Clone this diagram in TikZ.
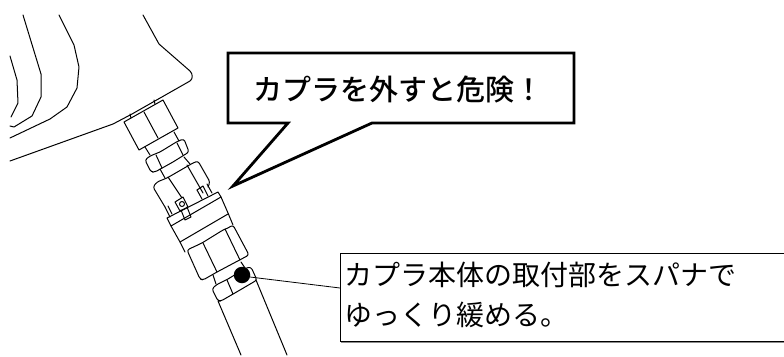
\documentclass[tikz,border=0pt]{standalone}
\usepackage{fontspec}
\newfontfamily\jpfont{Noto Sans CJK JP}
\newfontfamily\jpbold{Noto Sans CJK JP Medium}
\tikzset{
  part/.style={draw=black,line width=1pt,line join=round,line cap=round},
  nut/.style={part,rounded corners=2.5pt},
  callout/.style={draw=black,line width=2.8pt,line join=miter,fill=white},
  labelbox/.style={draw=black,line width=1pt},
  boxshade/.style={draw=black!45,line width=1pt},
  leader/.style={draw=black,line width=0.8pt},
  bigtext/.style={inner sep=0pt,anchor=base west,font=\jpfont\fontsize{29}{34}\selectfont},
  smalltext/.style={inner sep=0pt,anchor=base west,font=\jpfont\fontsize{28}{34}\selectfont}
}
\begin{document}
\begin{tikzpicture}[x=1pt,y=-1pt]
\useasboundingbox (0,0) rectangle (784,356);
% housing
\draw[part] (10,56) -- (17,80) -- (18,103) -- (11,117);
\draw[part] (23,15) -- (41,74) -- (41,97) -- (32,116) -- (14,127) -- (10,126);
\draw[part] (59,15) -- (74,45) -- (79,67) -- (77,88) -- (67,107) -- (50,119) -- (10,138);
\draw[part] (143,15) -- (159,44) -- (190,71) .. controls (193,74) and (193,79) .. (190,81) -- (132,114) -- (113,124) -- (10,161);
% first nut
\draw[part] (124,122) -- (163,100) -- (178,128) -- (139,150) -- cycle;
\draw[part] (144,112) -- (158,138);
\draw[part] (131,118) -- (130,114);
\draw[part] (155,104) -- (154,100);
% collar
\draw[part] (145,147) -- (150,155);
\draw[part] (174,132) -- (179,141);
% second nut
\draw[nut] (145,160) -- (150,156) -- (160,152) -- (178,141) -- (184,139) -- (189,152) -- (173,162) -- (155,172) -- (151,172) -- cycle;
\draw[part] (156,155) -- (162,168);
\draw[part] (177,143) -- (183,155);
% neck
\draw[part] (160,169) -- (165,178);
\draw[part] (184,157) -- (190,164);
% body with tabs
\draw[nut] (165,207) -- (153,187) -- (157,182) -- (167,178) -- (193,163) -- (198,161) -- (210,182) -- (208,187);
\draw[part] (168,177) -- (182,198);
\draw[part] (187,165) -- (203,193);
\draw[part] (197,190) -- (203,186) -- (208,196);
\draw[part] (197,190) -- (202,199);
\draw[part] (165,207) -- (170,217);
\draw[part] (168,206) -- (172,214);
\draw[part] (207,184) -- (212,193);
% locking tab with pin
\draw[part,fill=white] (175,202) -- (183,197) -- (188,207) -- (180,211) -- cycle;
\draw[part] (181,210) -- (185,220) -- (191,217) -- (187,207);
\draw[part] (182,204) circle[radius=2.5];
% ring
\draw[part] (167,218) -- (218,192) -- (221,197) -- (171,226) -- cycle;
\draw[part] (171,226) -- (180,242) -- (185,252);
\draw[part] (221,197) -- (228,213) -- (233,225);
\draw[part] (180,242) -- (228,214);
% third nut
\draw[nut] (187,250) -- (202,243) -- (223,230) -- (228,228) -- (233,225) -- (249,255) -- (217,272) -- (203,280) -- (200,279) -- cycle;
\draw[part] (203,243) -- (217,272);
\draw[part] (225,229) -- (240,260);
% lower neck
\draw[part] (213,275) -- (216,284);
\draw[part] (241,262) -- (245,268);
% fourth nut
\draw[nut] (212,289) -- (216,285) -- (228,279) -- (246,268) -- (251,267) -- (257,280) -- (240,290) -- (221,301) -- (218,301) -- cycle;
\draw[part] (227,280) -- (233,294);
% pipe
\draw[part] (218,301) -- (241,355);
\draw[part] (256,280) -- (287,355);
% note and leader
\node[draw=none,fill=black,circle,minimum size=16.5pt,inner sep=0pt] (dot) at (242,275) {};
\coordinate (notewest) at (340,288);
\coordinate (leadstart) at (250,277);
\draw[leader] (leadstart) -- (notewest);
\draw[boxshade] (341,342.5) -- (784,342.5);
\draw[labelbox] (784,253.5) -- (340,253.5) -- (340,341.5) -- (784,341.5);
\node[smalltext] (noteA) at (344,285.5) {カプラ本体の取付部をスパナで};
\node[smalltext] (noteB) at (344,325.5) {ゆっくり緩める。};
% callout
\draw[callout] (228,53) -- (574,53) -- (574,123) -- (372,123) -- (233,186) -- (288,123) -- (228,123) -- cycle;
\node[bigtext] (warn) at (253,100.5) {\jpbold カプラを外すと危険！};
\end{tikzpicture}
\end{document}
